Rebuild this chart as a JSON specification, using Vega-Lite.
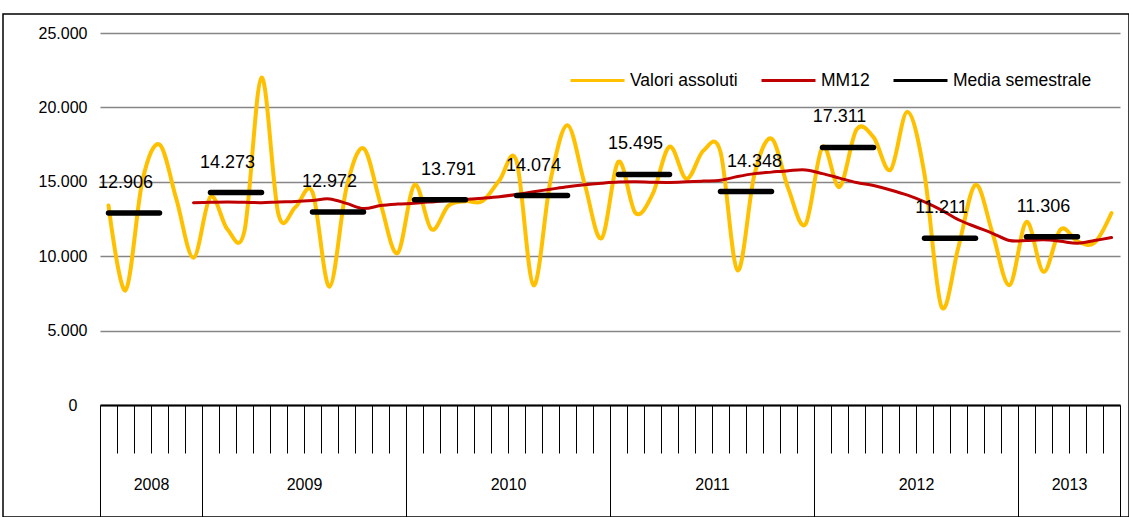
{
  "$schema": "https://vega.github.io/schema/vega-lite/v6.json",
  "autosize": {"type": "none"},
  "padding": {"left": 3, "top": 14, "right": 0, "bottom": 0},
  "width": 1126,
  "height": 503,
  "config": {
    "locale": {"number": {"decimal": ",", "thousands": ".", "grouping": [3], "currency": ["", " €"]}},
    "view": {"stroke": "#000000", "strokeWidth": 1.5},
    "font": "Liberation Sans",
    "text": {"font": "Liberation Sans"}
  },
  "datasets": {
    "valori": [
      {"i":0,"serie":"Valori assoluti","v":13400},{"i":1,"serie":"Valori assoluti","v":7700},{"i":2,"serie":"Valori assoluti","v":15100},{"i":3,"serie":"Valori assoluti","v":17500},{"i":4,"serie":"Valori assoluti","v":13800},{"i":5,"serie":"Valori assoluti","v":9900},
      {"i":6,"serie":"Valori assoluti","v":14000},{"i":7,"serie":"Valori assoluti","v":11800},{"i":8,"serie":"Valori assoluti","v":11700},{"i":9,"serie":"Valori assoluti","v":22000},{"i":10,"serie":"Valori assoluti","v":12800},{"i":11,"serie":"Valori assoluti","v":13300},
      {"i":12,"serie":"Valori assoluti","v":14300},{"i":13,"serie":"Valori assoluti","v":7950},{"i":14,"serie":"Valori assoluti","v":14600},{"i":15,"serie":"Valori assoluti","v":17250},{"i":16,"serie":"Valori assoluti","v":13550},{"i":17,"serie":"Valori assoluti","v":10200},
      {"i":18,"serie":"Valori assoluti","v":14800},{"i":19,"serie":"Valori assoluti","v":11800},{"i":20,"serie":"Valori assoluti","v":13400},{"i":21,"serie":"Valori assoluti","v":13700},{"i":22,"serie":"Valori assoluti","v":13700},{"i":23,"serie":"Valori assoluti","v":15100},
      {"i":24,"serie":"Valori assoluti","v":16400},{"i":25,"serie":"Valori assoluti","v":8050},{"i":26,"serie":"Valori assoluti","v":15100},{"i":27,"serie":"Valori assoluti","v":18800},{"i":28,"serie":"Valori assoluti","v":14900},{"i":29,"serie":"Valori assoluti","v":11200},
      {"i":30,"serie":"Valori assoluti","v":16350},{"i":31,"serie":"Valori assoluti","v":12900},{"i":32,"serie":"Valori assoluti","v":14150},{"i":33,"serie":"Valori assoluti","v":17360},{"i":34,"serie":"Valori assoluti","v":15200},{"i":35,"serie":"Valori assoluti","v":17100},
      {"i":36,"serie":"Valori assoluti","v":17000},{"i":37,"serie":"Valori assoluti","v":9050},{"i":38,"serie":"Valori assoluti","v":15500},{"i":39,"serie":"Valori assoluti","v":17900},{"i":40,"serie":"Valori assoluti","v":14500},{"i":41,"serie":"Valori assoluti","v":12150},
      {"i":42,"serie":"Valori assoluti","v":17350},{"i":43,"serie":"Valori assoluti","v":14650},{"i":44,"serie":"Valori assoluti","v":18500},{"i":45,"serie":"Valori assoluti","v":18000},{"i":46,"serie":"Valori assoluti","v":15800},{"i":47,"serie":"Valori assoluti","v":19700},
      {"i":48,"serie":"Valori assoluti","v":15500},{"i":49,"serie":"Valori assoluti","v":6600},{"i":50,"serie":"Valori assoluti","v":10640},{"i":51,"serie":"Valori assoluti","v":14800},{"i":52,"serie":"Valori assoluti","v":11560},{"i":53,"serie":"Valori assoluti","v":8050},
      {"i":54,"serie":"Valori assoluti","v":12300},{"i":55,"serie":"Valori assoluti","v":8950},{"i":56,"serie":"Valori assoluti","v":11800},{"i":57,"serie":"Valori assoluti","v":11000},{"i":58,"serie":"Valori assoluti","v":10900},{"i":59,"serie":"Valori assoluti","v":12900}
    ],
    "mm12": [
      {"i":5,"serie":"MM12","v":13600},
      {"i":6,"serie":"MM12","v":13620},{"i":7,"serie":"MM12","v":13640},{"i":8,"serie":"MM12","v":13620},{"i":9,"serie":"MM12","v":13600},{"i":10,"serie":"MM12","v":13650},{"i":11,"serie":"MM12","v":13680},
      {"i":12,"serie":"MM12","v":13750},{"i":13,"serie":"MM12","v":13850},{"i":14,"serie":"MM12","v":13550},{"i":15,"serie":"MM12","v":13200},{"i":16,"serie":"MM12","v":13400},{"i":17,"serie":"MM12","v":13500},
      {"i":18,"serie":"MM12","v":13560},{"i":19,"serie":"MM12","v":13650},{"i":20,"serie":"MM12","v":13750},{"i":21,"serie":"MM12","v":13820},{"i":22,"serie":"MM12","v":13900},{"i":23,"serie":"MM12","v":14000},
      {"i":24,"serie":"MM12","v":14150},{"i":25,"serie":"MM12","v":14330},{"i":26,"serie":"MM12","v":14500},{"i":27,"serie":"MM12","v":14670},{"i":28,"serie":"MM12","v":14800},{"i":29,"serie":"MM12","v":14900},
      {"i":30,"serie":"MM12","v":14980},{"i":31,"serie":"MM12","v":15000},{"i":32,"serie":"MM12","v":14970},{"i":33,"serie":"MM12","v":14960},{"i":34,"serie":"MM12","v":15000},{"i":35,"serie":"MM12","v":15050},
      {"i":36,"serie":"MM12","v":15100},{"i":37,"serie":"MM12","v":15350},{"i":38,"serie":"MM12","v":15550},{"i":39,"serie":"MM12","v":15650},{"i":40,"serie":"MM12","v":15750},{"i":41,"serie":"MM12","v":15800},
      {"i":42,"serie":"MM12","v":15550},{"i":43,"serie":"MM12","v":15250},{"i":44,"serie":"MM12","v":14950},{"i":45,"serie":"MM12","v":14750},{"i":46,"serie":"MM12","v":14450},{"i":47,"serie":"MM12","v":14100},
      {"i":48,"serie":"MM12","v":13650},{"i":49,"serie":"MM12","v":13100},{"i":50,"serie":"MM12","v":12450},{"i":51,"serie":"MM12","v":11980},{"i":52,"serie":"MM12","v":11540},{"i":53,"serie":"MM12","v":11050},
      {"i":54,"serie":"MM12","v":11050},{"i":55,"serie":"MM12","v":11100},{"i":56,"serie":"MM12","v":11000},{"i":57,"serie":"MM12","v":10870},{"i":58,"serie":"MM12","v":11050},{"i":59,"serie":"MM12","v":11250}
    ],
    "semestrale": [
      {"i":0,"sem":"2008-II","serie":"Media semestrale","v":12906},{"i":1,"sem":"2008-II","serie":"Media semestrale","v":12906},{"i":2,"sem":"2008-II","serie":"Media semestrale","v":12906},{"i":3,"sem":"2008-II","serie":"Media semestrale","v":12906},
      {"i":6,"sem":"2009-I","serie":"Media semestrale","v":14273},{"i":7,"sem":"2009-I","serie":"Media semestrale","v":14273},{"i":8,"sem":"2009-I","serie":"Media semestrale","v":14273},{"i":9,"sem":"2009-I","serie":"Media semestrale","v":14273},
      {"i":12,"sem":"2009-II","serie":"Media semestrale","v":12972},{"i":13,"sem":"2009-II","serie":"Media semestrale","v":12972},{"i":14,"sem":"2009-II","serie":"Media semestrale","v":12972},{"i":15,"sem":"2009-II","serie":"Media semestrale","v":12972},
      {"i":18,"sem":"2010-I","serie":"Media semestrale","v":13791},{"i":19,"sem":"2010-I","serie":"Media semestrale","v":13791},{"i":20,"sem":"2010-I","serie":"Media semestrale","v":13791},{"i":21,"sem":"2010-I","serie":"Media semestrale","v":13791},
      {"i":24,"sem":"2010-II","serie":"Media semestrale","v":14074},{"i":25,"sem":"2010-II","serie":"Media semestrale","v":14074},{"i":26,"sem":"2010-II","serie":"Media semestrale","v":14074},{"i":27,"sem":"2010-II","serie":"Media semestrale","v":14074},
      {"i":30,"sem":"2011-I","serie":"Media semestrale","v":15495},{"i":31,"sem":"2011-I","serie":"Media semestrale","v":15495},{"i":32,"sem":"2011-I","serie":"Media semestrale","v":15495},{"i":33,"sem":"2011-I","serie":"Media semestrale","v":15495},
      {"i":36,"sem":"2011-II","serie":"Media semestrale","v":14348},{"i":37,"sem":"2011-II","serie":"Media semestrale","v":14348},{"i":38,"sem":"2011-II","serie":"Media semestrale","v":14348},{"i":39,"sem":"2011-II","serie":"Media semestrale","v":14348},
      {"i":42,"sem":"2012-I","serie":"Media semestrale","v":17311},{"i":43,"sem":"2012-I","serie":"Media semestrale","v":17311},{"i":44,"sem":"2012-I","serie":"Media semestrale","v":17311},{"i":45,"sem":"2012-I","serie":"Media semestrale","v":17311},
      {"i":48,"sem":"2012-II","serie":"Media semestrale","v":11211},{"i":49,"sem":"2012-II","serie":"Media semestrale","v":11211},{"i":50,"sem":"2012-II","serie":"Media semestrale","v":11211},{"i":51,"sem":"2012-II","serie":"Media semestrale","v":11211},
      {"i":54,"sem":"2013-I","serie":"Media semestrale","v":11306},{"i":55,"sem":"2013-I","serie":"Media semestrale","v":11306},{"i":56,"sem":"2013-I","serie":"Media semestrale","v":11306},{"i":57,"sem":"2013-I","serie":"Media semestrale","v":11306}
    ],
    "etichette": [
      {"i":1,"sem":"2008-II","v":12906},{"i":7,"sem":"2009-I","v":14273},{"i":13,"sem":"2009-II","v":12972},{"i":20,"sem":"2010-I","v":13791},{"i":25,"sem":"2010-II","v":14074},
      {"i":31,"sem":"2011-I","v":15495},{"i":38,"sem":"2011-II","v":14348},{"i":43,"sem":"2012-I","v":17311},{"i":49,"sem":"2012-II","v":11211},{"i":55,"sem":"2013-I","v":11306}
    ]
  },
  "encoding": {
    "x": {
      "field": "i", "type": "quantitative",
      "scale": {"domain": [-0.5, 59.5], "range": [97, 1117], "nice": false, "zero": false},
      "axis": {
        "orient": "bottom", "offset": -112, "title": null, "grid": false,
        "values": [-0.5,0.5,1.5,2.5,3.5,4.5,5.5,6.5,7.5,8.5,9.5,10.5,11.5,12.5,13.5,14.5,15.5,16.5,17.5,18.5,19.5,20.5,21.5,22.5,23.5,24.5,25.5,26.5,27.5,28.5,29.5,30.5,31.5,32.5,33.5,34.5,35.5,36.5,37.5,38.5,39.5,40.5,41.5,42.5,43.5,44.5,45.5,46.5,47.5,48.5,49.5,50.5,51.5,52.5,53.5,54.5,55.5,56.5,57.5,58.5,59.5],
        "domainColor": "#000000", "domainWidth": 2,
        "tickColor": "#000000", "tickWidth": 1,
        "tickSize": {"condition": {"test": "indexof([-0.5,5.5,17.5,29.5,41.5,53.5,59.5], datum.value) >= 0", "value": 114}, "value": 48},
        "labelExpr": "datum.value == 2.5 ? '2008' : datum.value == 11.5 ? '2009' : datum.value == 23.5 ? '2010' : datum.value == 35.5 ? '2011' : datum.value == 47.5 ? '2012' : datum.value == 56.5 ? '2013' : ''",
        "labelPadding": 31, "labelBaseline": "middle", "labelFontSize": 16, "labelColor": "#000000",
        "labelFont": "Liberation Sans",
        "labelOverlap": false, "labelBound": false, "labelFlush": false
      }
    },
    "y": {
      "field": "v", "type": "quantitative",
      "scale": {"domain": [0, 25000], "range": [391, 19], "nice": false},
      "axis": {
        "orient": "left", "offset": -97, "title": null,
        "values": [0, 5000, 10000, 15000, 20000, 25000], "format": ",.0f",
        "domain": false, "ticks": false,
        "labelPadding": {"condition": {"test": "datum.value == 0", "value": 23}, "value": 13},
        "labelFontSize": 16, "labelColor": "#000000", "labelFont": "Liberation Sans",
        "grid": true, "gridColor": "#868686", "gridWidth": 1.3
      }
    },
    "color": {
      "field": "serie", "type": "nominal",
      "scale": {"domain": ["Valori assoluti", "MM12", "Media semestrale"], "range": ["#FFC000", "#C00000", "#000000"]},
      "legend": {
        "orient": "none", "legendX": 566, "legendY": 38, "direction": "horizontal", "title": null,
        "symbolType": "stroke", "symbolSize": 2916, "symbolStrokeWidth": 3,
        "labelFontSize": 17.5, "labelFont": "Liberation Sans", "labelColor": "#000000", "labelOffset": 4,
        "columnPadding": 17, "labelLimit": 400
      }
    }
  },
  "layer": [
    {
      "data": {"name": "valori"},
      "mark": {"type": "line", "interpolate": "cardinal", "tension": 0, "strokeWidth": 4, "strokeCap": "round"}
    },
    {
      "data": {"name": "mm12"},
      "mark": {"type": "line", "interpolate": "cardinal", "tension": 0, "strokeWidth": 3, "strokeCap": "round"}
    },
    {
      "data": {"name": "semestrale"},
      "mark": {"type": "line", "strokeWidth": 5.5, "strokeCap": "round"},
      "encoding": {"detail": {"field": "sem"}}
    },
    {
      "data": {"name": "etichette"},
      "mark": {"type": "text", "dy": -30, "baseline": "middle", "fontSize": 18, "font": "Liberation Sans"},
      "encoding": {
        "text": {"field": "v", "type": "quantitative", "format": ",.0f"},
        "color": {"value": "#000000"}
      }
    }
  ]
}
